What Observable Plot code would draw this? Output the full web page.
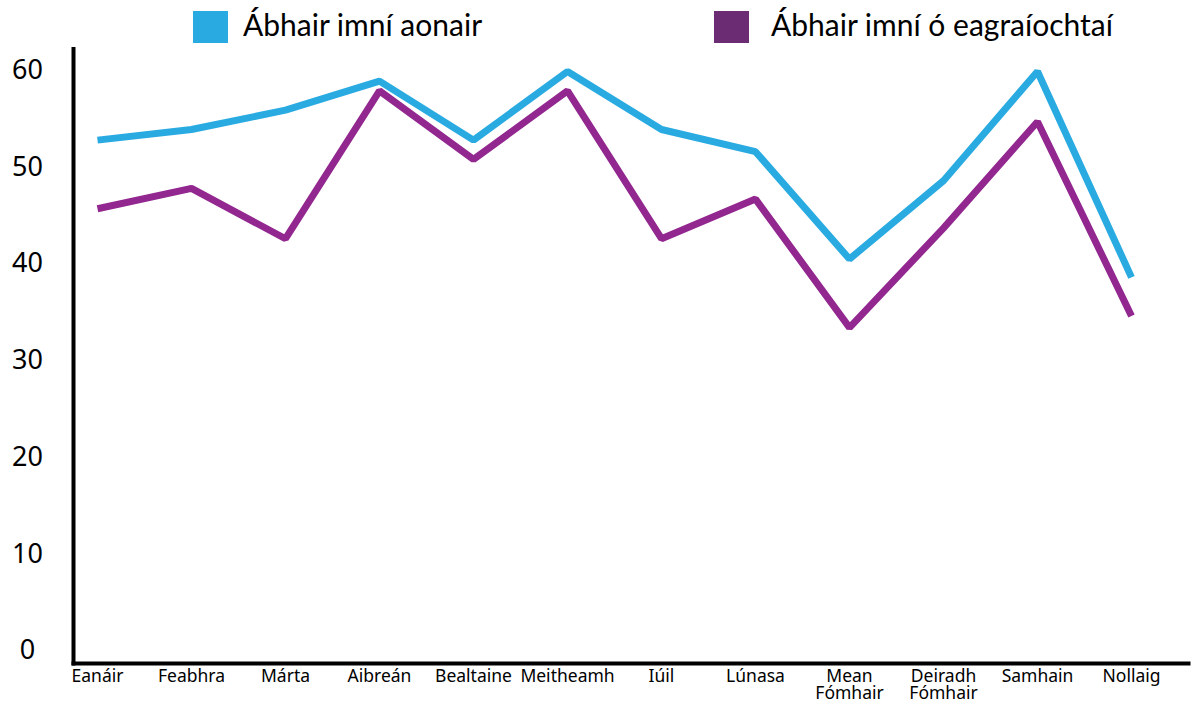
<!DOCTYPE html>
<html>
<head>
<meta charset="utf-8">
<script src="https://cdn.jsdelivr.net/npm/d3@7"></script>
<script src="https://cdn.jsdelivr.net/npm/@observablehq/plot@0.6"></script>
<style>
  html, body { margin: 0; padding: 0; background: #fff; }
  #legend { position: relative; height: 47px; width: 1197px; font-family: Lato, "Open Sans", sans-serif; }
  .sw { position: absolute; top: 11px; width: 35px; height: 32px; }
  .lab { position: absolute; top: 4px; font-size: 30px; line-height: 40px; color: #000; white-space: nowrap; }
  #chart svg { display: block; }
</style>
</head>
<body>
<div id="legend"></div>
<div id="chart"></div>
<script>
const months = ["Eanáir", "Feabhra", "Márta", "Aibreán", "Bealtaine", "Meitheamh", "Iúil", "Lúnasa", "Mean\nFómhair", "Deiradh\nFómhair", "Samhain", "Nollaig"];
const aonair = [52.8, 53.9, 55.9, 58.9, 52.8, 59.9, 53.9, 51.6, 40.5, 48.6, 59.9, 38.6];
const eagraiochtai = [45.7, 47.8, 42.6, 57.9, 50.8, 57.9, 42.6, 46.7, 33.4, 43.7, 54.7, 34.6];
const seriesNames = ["Ábhair imní aonair", "Ábhair imní ó eagraíochtaí"];
const yTicks = [0, 10, 20, 30, 40, 50, 60];

const lineColors = ["#29abe2", "#92278f"];
const legendColors = ["#29abe2", "#6b2c73"];

// legend
const legend = document.getElementById("legend");
const legendPos = [[193, 243], [714, 771]];
seriesNames.forEach((name, i) => {
  const sw = document.createElement("div");
  sw.className = "sw";
  sw.style.left = legendPos[i][0] + "px";
  sw.style.background = legendColors[i];
  legend.appendChild(sw);
  const t = document.createElement("div");
  t.className = "lab";
  t.style.left = legendPos[i][1] + "px";
  t.textContent = name;
  legend.appendChild(t);
});

const dataA = months.map((m, i) => ({month: m, value: aonair[i]}));
const dataB = months.map((m, i) => ({month: m, value: eagraiochtai[i]}));

const chart = Plot.plot({
  width: 1197,
  height: 660,
  marginLeft: 73,
  marginRight: 9,
  marginTop: 0,
  marginBottom: 44,
  x: {type: "point", domain: months, range: [95, 1133], padding: 0},
  y: {domain: [-1.34, 62.38]},
  marks: [
    Plot.frame({anchor: "left", stroke: "#000", strokeWidth: 4}),
    Plot.frame({anchor: "bottom", stroke: "#000", strokeWidth: 4}),
    Plot.axisY({ticks: yTicks, tickSize: 0, tickPadding: 3, textAnchor: "middle", dx: -43, fontSize: 27, fontFamily: "Noto Sans", fill: "#000", label: null}),
    Plot.axisX({tickSize: 0, tickPadding: 6, fontSize: 17.5, fontFamily: "Noto Sans", lineHeight: 1.0, fill: "#000", label: null}),
    Plot.line(dataA, {x: "month", y: "value", stroke: lineColors[0], strokeWidth: 7, strokeLinejoin: "miter", strokeLinecap: "butt"}),
    Plot.line(dataB, {x: "month", y: "value", stroke: lineColors[1], strokeWidth: 7, strokeLinejoin: "miter", strokeLinecap: "butt"})
  ]
});
document.getElementById("chart").appendChild(chart);
</script>
</body>
</html>
